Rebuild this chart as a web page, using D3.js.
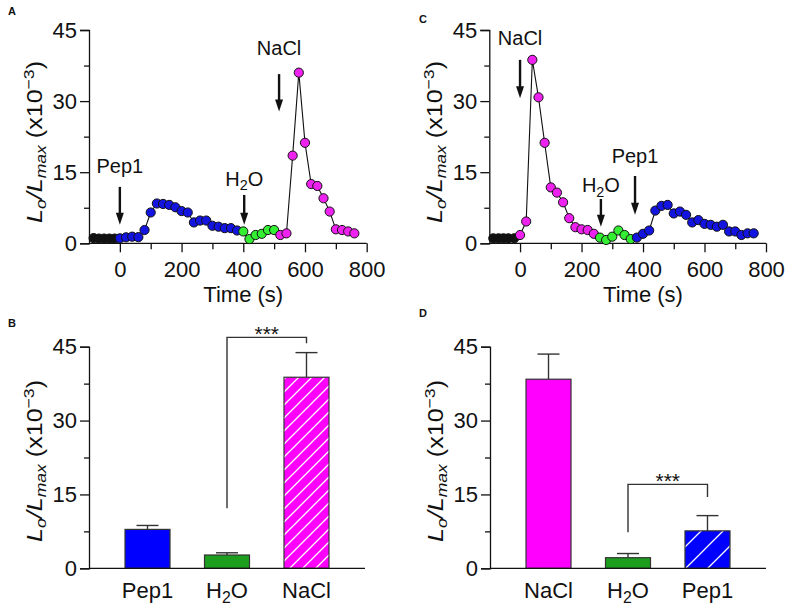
<!DOCTYPE html>
<html><head><meta charset="utf-8">
<script src="https://cdn.jsdelivr.net/npm/d3@7"></script>
<style>
body{margin:0;background:#fff;}
text{font-family:"Liberation Sans",Arial,sans-serif;fill:#111;}
</style></head><body>
<script>
// ---------- DATA ----------
// Panel A (time course, Pep1 -> H2O -> NaCl)
const aBaseT = [-85,-68,-51,-34,-17];
const aBaseV = [1.1,1.0,1.0,1.0,1.0];
const aPepT = [0,20,40,60,80,100,120,140,160,180,200,220,240,260,280,300,320,340,360,380];
const aPepV = [1.05,1.26,1.4,1.3,2.8,6.5,8.4,8.3,8.1,7.6,6.8,6.5,4.4,4.8,4.8,3.7,3.5,3.2,3.2,2.7];
const aH2OT = [400,420,440,460,480,500];
const aH2OV = [2.5,0.9,1.75,2.0,2.8,2.8];
const aNaClT = [520,540,560,580,600,620,640,660,680,700,720,740,760];
const aNaClV = [1.75,2.1,18.5,36.0,21.2,12.5,12.1,9.5,6.7,2.95,2.8,2.5,2.1];
// Panel C (time course, NaCl -> H2O -> Pep1)
const cBaseT = [-87,-70,-54,-38,-19];
const cBaseV = [1.05,1.05,1.05,1.05,1.05];
const cNaClT = [0,20,40,60,80,100,120,140,160,180,200,220,240];
const cNaClV = [1.75,4.6,38.7,30.8,21.2,11.8,10.7,8.65,5.3,3.4,2.95,2.8,2.0];
const cH2OT = [260,280,300,320,340,360];
const cH2OV = [1.2,0.7,1.4,2.7,1.75,0.9];
const cPepT = [380,400,420,440,460,480,500,520,540,560,580,600,620,640,660,680,700,720,740,760];
const cPepV = [1.2,2.0,2.7,6.9,7.9,8.1,6.3,6.7,6.0,4.4,4.9,4.1,3.9,3.5,3.9,2.5,2.5,1.75,2.1,2.1];
// Arrow annotations (time, label height, arrow top, arrow tip) in data units
const aAnnLabels = ["Pep1","H2O","NaCl"];
const aAnnT = [0,403,516];
const aAnnLabelV = [14.8,12.1,39.8];
const aAnnTopV = [11.9,10.2,35.7];
const aAnnTipV = [3.9,3.9,27.8];
const cAnnLabels = ["NaCl","H2O","Pep1"];
const cAnnT = [0,263,374];
const cAnnLabelV = [41.9,10.8,16.9];
const cAnnTopV = [38.7,9.35,14.2];
const cAnnTipV = [30.6,3.5,6.0];
// Panel B bars
const bCats = ["Pep1","H2O","NaCl"];
const bMeans = [7.9,2.7,38.8];
const bSEM = [0.8,0.45,5.0];
// Panel D bars
const dCats = ["NaCl","H2O","Pep1"];
const dMeans = [38.4,2.15,7.6];
const dSEM = [5.1,0.85,3.1];
// significance brackets: [from, to, leftBottom, top, rightBottom]
const bSig = ["H2O","NaCl",12.2,46.9,45.7];
const dSig = ["H2O","Pep1",7.3,17.05,14.5];
// axis ticks
const yMajor = [0,15,30,45];
const yMinor = [7.5,22.5,37.5];
const tMajor = [0,200,400,600,800];
const tMinor = [100,300,500,700];

// ---------- STYLE ----------
const COL = {
  base:"#111111", pep:"#1414e0", h2o:"#33ee33", nacl:"#ee22ee",
  barPep:"#0000ff", barH2O:"#1e9e1e", barNaCl:"#ff00ff"
};
const FONT = 22;

const svg = d3.select("body").append("svg").attr("width",787).attr("height",608);
svg.append("rect").attr("width",787).attr("height",608).attr("fill","#fff");

const defs = svg.append("defs");
function hatch(id, color, step){
  const p = defs.append("pattern").attr("id",id).attr("patternUnits","userSpaceOnUse")
    .attr("width",step).attr("height",step);
  p.append("rect").attr("width",step).attr("height",step).attr("fill",color);
  p.append("path").attr("d",`M${-step/2},${step/2} L${step/2},${-step/2} M0,${step} L${step},0 M${step/2},${step*1.5} L${step*1.5},${step/2}`)
    .attr("stroke","#fff").attr("stroke-width",1.3);
}
hatch("hatchB", COL.barNaCl, 13);
hatch("hatchD", COL.barPep, 22);

function labelText(sel, s, size){
  if(s === "H2O"){
    sel.append("tspan").text("H");
    sel.append("tspan").text("2").attr("font-size",size*0.72).attr("dy",size*0.22);
    sel.append("tspan").text("O").attr("dy",-size*0.22);
  } else sel.text(s);
}

function yTitle(g, cx, cy, len){
  const F = 24;
  const t = g.append("text").attr("text-anchor","middle").attr("font-size",F);
  const s = F*0.7;
  t.append("tspan").text("L").attr("font-style","italic");
  t.append("tspan").text("o").attr("font-style","italic").attr("font-size",s).attr("dy",4);
  t.append("tspan").text("/").attr("font-style","italic").attr("dy",-4);
  t.append("tspan").text("L").attr("font-style","italic");
  t.append("tspan").text("max").attr("font-style","italic").attr("font-size",s).attr("dy",4);
  t.append("tspan").text(" (x10").attr("dy",-4);
  t.append("tspan").text("\u22123").attr("font-size",s).attr("dy",-9);
  t.append("tspan").text(")").attr("dy",9);
  const w = t.node().getComputedTextLength();
  t.attr("transform",`translate(${cx},${cy}) rotate(-90) scale(${len/w},0.9)`);
}

function yAxis(g, y, x0){
  const ga = g.append("g").attr("transform",`translate(${x0},0)`);
  ga.call(d3.axisLeft(y).tickValues(yMajor).tickSize(9).tickPadding(3).tickFormat(d3.format("d")));
  ga.append("g").call(d3.axisLeft(y).tickValues(yMinor).tickSize(5).tickFormat(""))
    .select(".domain").remove();
  ga.selectAll("text").attr("font-size",FONT).attr("font-family",null).attr("fill","#111");
  ga.selectAll("line,path").attr("stroke","#111").attr("stroke-width",1.3);
}

function timePanel(x0, x1, baseT, baseV, phases, ann, titleX){
  const x = d3.scaleLinear().domain([-100,800]).range([x0,x1]);
  const y = d3.scaleLinear().domain([0,45]).range([243.3,30]);
  const g = svg.append("g");
  const gx = g.append("g").attr("transform",`translate(0,${y(0)})`);
  gx.call(d3.axisBottom(x).tickValues(tMajor).tickSize(9).tickPadding(9).tickFormat(d3.format("d")));
  gx.append("g").call(d3.axisBottom(x).tickValues(tMinor).tickSize(6).tickFormat("")).select(".domain").remove();
  gx.selectAll("text").attr("font-size",FONT).attr("font-family",null).attr("fill","#111");
  gx.selectAll("line,path").attr("stroke","#111").attr("stroke-width",1.3);
  gx.select(".domain").attr("d",`M${x0},0H${x1}`);
  yAxis(g, y, x0);
  g.append("text").attr("x",(x(0)+x(800))/2).attr("y",302).attr("text-anchor","middle")
    .attr("font-size",FONT).text("Time (s)");
  yTitle(g, titleX, 142, 162);
  const pts = [];
  baseT.forEach((t,i)=>pts.push({t, v:baseV[i], c:COL.base}));
  phases.forEach(ph=>ph.T.forEach((t,i)=>pts.push({t, v:ph.V[i], c:ph.c})));
  g.append("path").datum(pts).attr("fill","none").attr("stroke","#111").attr("stroke-width",1.1)
    .attr("d",d3.line().x(d=>x(d.t)).y(d=>y(d.v)));
  g.selectAll("circle.p").data(pts).join("circle").attr("class","p")
    .attr("cx",d=>x(d.t)).attr("cy",d=>y(d.v)).attr("r",4.6)
    .attr("fill",d=>d.c).attr("stroke","#111").attr("stroke-width",1);
  ann.labels.forEach((lab,i)=>{
    const ax = x(ann.t[i]), yt = y(ann.top[i]), yp = y(ann.tip[i]);
    g.append("line").attr("x1",ax).attr("x2",ax).attr("y1",yt).attr("y2",yp-10)
      .attr("stroke","#111").attr("stroke-width",2.4);
    g.append("path").attr("d",`M${ax-4},${yp-12} L${ax+4},${yp-12} L${ax},${yp} Z`).attr("fill","#111");
    const tx = g.append("text").attr("x",ax).attr("y",y(ann.lab[i])).attr("text-anchor","middle").attr("font-size",20);
    labelText(tx, lab, 20);
  });
}

timePanel(89, 366.7, aBaseT, aBaseV,
  [{T:aPepT,V:aPepV,c:COL.pep},{T:aH2OT,V:aH2OV,c:COL.h2o},{T:aNaClT,V:aNaClV,c:COL.nacl}],
  {labels:aAnnLabels,t:aAnnT,lab:aAnnLabelV,top:aAnnTopV,tip:aAnnTipV}, 42);
timePanel(489.3, 766, cBaseT, cBaseV,
  [{T:cNaClT,V:cNaClV,c:COL.nacl},{T:cH2OT,V:cH2OV,c:COL.h2o},{T:cPepT,V:cPepV,c:COL.pep}],
  {labels:cAnnLabels,t:cAnnT,lab:cAnnLabelV,top:cAnnTopV,tip:cAnnTipV}, 442.3);

function barPanel(x0, x1, cats, means, sem, fills, sig, titleX){
  const x = d3.scaleBand().domain(cats).range([x0,x1]).paddingInner(0.434).paddingOuter(0.453);
  const y = d3.scaleLinear().domain([0,45]).range([568.3,346.7]);
  const g = svg.append("g");
  const bw = x.bandwidth();
  cats.forEach((c,i)=>{
    const cx = x(c)+bw/2;
    g.append("line").attr("x1",cx).attr("x2",cx).attr("y1",y(means[i])).attr("y2",y(means[i]+sem[i]))
      .attr("stroke","#333").attr("stroke-width",1.4);
    g.append("line").attr("x1",cx-11).attr("x2",cx+11).attr("y1",y(means[i]+sem[i])).attr("y2",y(means[i]+sem[i]))
      .attr("stroke","#333").attr("stroke-width",1.4);
  });
  g.selectAll("rect.bar").data(cats).join("rect").attr("class","bar")
    .attr("x",d=>x(d)).attr("width",bw)
    .attr("y",(d,i)=>y(means[i])).attr("height",(d,i)=>y(0)-y(means[i]))
    .attr("fill",(d,i)=>fills[i]).attr("stroke","#333").attr("stroke-width",1.2);
  g.append("line").attr("x1",x0).attr("x2",x1).attr("y1",y(0)).attr("y2",y(0)).attr("stroke","#111").attr("stroke-width",1.3);
  yAxis(g, y, x0);
  cats.forEach(c=>{
    const t = g.append("text").attr("x",x(c)+bw/2).attr("y",598).attr("text-anchor","middle").attr("font-size",FONT);
    labelText(t, c, FONT);
  });
  yTitle(g, titleX, 461, 162);
  const xa = x(sig[0])+bw/2, xb = x(sig[1])+bw/2;
  g.append("path").attr("d",`M${xa},${y(sig[2])} V${y(sig[3])} H${xb} V${y(sig[4])}`)
    .attr("fill","none").attr("stroke","#333").attr("stroke-width",1.4);
  g.append("text").attr("x",(xa+xb)/2).attr("y",y(sig[3])+4).attr("text-anchor","middle")
    .attr("font-size",21).text("***");
}
barPanel(89, 365, bCats, bMeans, bSEM, [COL.barPep, COL.barH2O, "url(#hatchB)"], bSig, 42);
barPanel(490, 766, dCats, dMeans, dSEM, [COL.barNaCl, COL.barH2O, "url(#hatchD)"], dSig, 443);

[["A",8,15],["C",419,23],["B",8,327],["D",419,317]].forEach(([s,px,py])=>{
  svg.append("text").attr("x",px).attr("y",py).attr("font-size",11).attr("font-weight","bold").text(s);
});
</script></body></html>
